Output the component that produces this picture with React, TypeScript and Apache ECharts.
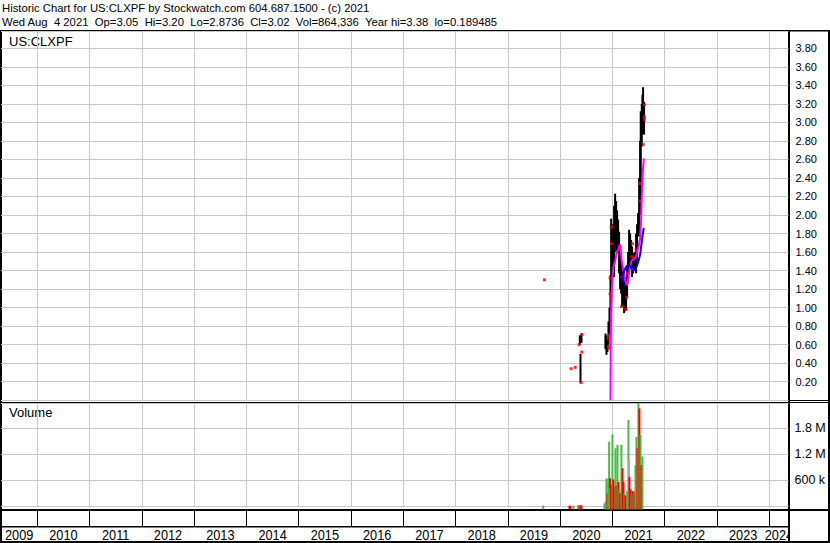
import React, { useEffect, useRef } from "react";
import * as echarts from "echarts";

const HEADER_LINE_1 = "Historic Chart for US:CLXPF by Stockwatch.com 604.687.1500 - (c) 2021";
const HEADER_LINE_2 =
  "Wed Aug  4 2021  Op=3.05  Hi=3.20  Lo=2.8736  Cl=3.02  Vol=864,336  Year hi=3.38  lo=0.189485";
const SYMBOL_LABEL = "US:CLXPF";
const VOLUME_LABEL = "Volume";

const YEAR_LABELS = [2009, 2010, 2011, 2012, 2013, 2014, 2015, 2016, 2017, 2018, 2019, 2020, 2021, 2022, 2023, 2024];
const YEAR_BOUNDARIES = [2010, 2011, 2012, 2013, 2014, 2015, 2016, 2017, 2018, 2019, 2020, 2021, 2022, 2023, 2024];
const X_MIN = 2009.3057;
const X_MAX = 2024.3671;

const PRICE_MIN = 0;
const PRICE_MAX = 3.987;
const PRICE_STEP = 0.2;
const VOL_MIN = 0;
const VOL_MAX = 2383800;
const VOL_STEP = 600000;

// price range bars: time (fractional year), low, high
const BAR_T = [
  2020.376, 2020.389, 2020.408,
  2020.866, 2020.885, 2020.904, 2020.924, 2020.943, 2020.962, 2020.975, 2020.994,
  2021.013, 2021.032, 2021.051, 2021.070, 2021.089, 2021.108, 2021.127, 2021.146,
  2021.166, 2021.185, 2021.204, 2021.223, 2021.242, 2021.261, 2021.280, 2021.299,
  2021.318, 2021.338, 2021.357, 2021.376, 2021.395, 2021.414, 2021.433, 2021.452,
  2021.471, 2021.490, 2021.510, 2021.529, 2021.541, 2021.561, 2021.573, 2021.586, 2021.605,
];
const BAR_LOW = [
  0.60, 0.19, 0.62,
  0.55, 0.49, 0.52, 0.60, 0.72, 0.80, 1.25, 1.33,
  1.40, 1.33, 1.66, 1.60, 1.59, 1.59, 1.37, 1.20,
  1.15, 1.01, 1.05, 0.94, 0.96, 0.97, 1.12, 1.30,
  1.44, 1.51, 1.44, 1.33, 1.37, 1.40, 1.41, 1.37,
  1.50, 1.77, 1.77, 2.00, 2.20, 2.74, 2.90, 2.87, 2.87,
];
const BAR_HIGH = [
  0.70, 0.50, 0.72,
  0.72, 0.70, 0.66, 0.85, 1.00, 1.35, 1.96, 1.84,
  1.90, 2.10, 2.23, 2.15, 2.05, 1.95, 1.82, 1.66,
  1.50, 1.41, 1.33, 1.23, 1.30, 1.33, 1.44, 1.60,
  1.84, 1.80, 1.73, 1.66, 1.59, 1.59, 1.60, 1.80,
  1.90, 2.02, 2.40, 2.80, 3.12, 3.20, 3.30, 3.38, 3.22,
];

// red close marks
const MARK_T = [
  2019.70, 2020.210, 2020.287, 2020.363, 2020.414, 2020.414, 2020.401,
  2020.924, 2020.936, 2020.924, 2020.936, 2020.955, 2020.968, 2020.955, 2020.975, 2020.987,
  2021.172, 2021.178, 2021.255, 2021.274, 2021.287, 2021.369, 2021.382, 2021.452,
  2021.522, 2021.529, 2021.586, 2021.611, 2021.611, 2021.611,
];
const MARK_V = [
  1.30, 0.34, 0.355, 0.60, 0.71, 0.52, 0.19,
  0.66, 0.70, 0.58, 0.56, 1.15, 1.10, 1.32, 1.87, 1.69,
  1.01, 1.33, 0.98, 1.11, 1.37, 1.55, 1.69, 1.62,
  2.34, 2.15, 2.76, 3.19, 3.06, 3.03,
];

// short moving average (magenta)
const MA_FAST_T = [
  2020.962, 2020.968, 2020.975, 2020.987, 2021.000, 2021.019, 2021.051, 2021.083, 2021.115,
  2021.140, 2021.153, 2021.178, 2021.210, 2021.242, 2021.274, 2021.290, 2021.306, 2021.338,
  2021.369, 2021.401, 2021.452, 2021.497, 2021.529, 2021.548, 2021.561, 2021.580, 2021.600,
];
const MA_FAST_V = [
  0.0, 0.62, 0.94, 1.15, 1.33, 1.44, 1.50, 1.60, 1.63,
  1.68, 1.66, 1.50, 1.40, 1.30, 1.24, 1.26, 1.33, 1.44,
  1.51, 1.52, 1.55, 1.66, 1.74, 1.95, 2.20, 2.45, 2.61,
];

// long moving average (blue)
const MA_SLOW_T = [
  2021.172, 2021.191, 2021.210, 2021.242, 2021.274, 2021.306, 2021.338, 2021.369,
  2021.401, 2021.433, 2021.465, 2021.497, 2021.529, 2021.554, 2021.573, 2021.600,
];
const MA_SLOW_V = [
  1.27, 1.33, 1.37, 1.42, 1.45, 1.46, 1.45, 1.42,
  1.41, 1.41, 1.45, 1.50, 1.57, 1.68, 1.77, 1.86,
];

// volume bars
const VOL_T = [
  2019.677, 2020.178, 2020.197, 2020.254, 2020.350, 2020.369, 2020.388, 2020.407,
  2020.847, 2020.866, 2020.885, 2020.905, 2020.920, 2020.937, 2020.952, 2020.961, 2020.971,
  2021.000, 2021.019, 2021.038, 2021.058, 2021.077, 2021.096, 2021.115, 2021.134, 2021.149,
  2021.172, 2021.185, 2021.191, 2021.211, 2021.230, 2021.249, 2021.264, 2021.281, 2021.306,
  2021.317, 2021.325, 2021.344, 2021.364, 2021.383, 2021.402, 2021.421, 2021.440, 2021.459,
  2021.478, 2021.497, 2021.516, 2021.536, 2021.555, 2021.574,
];
const VOL_V = [
  20000, 15000, 12000, 15000, 20000, 25000, 20000, 15000,
  60000, 100000, 640000, 300000, 640000, 1490000, 650000, 420000, 500000,
  1660000, 620000, 450000, 1340000, 480000, 1420000, 560000, 400000, 300000,
  1420000, 880000, 880000, 560000, 300000, 250000, 200000, 350000, 1990000,
  1070000, 680000, 400000, 300000, 350000, 270000, 340000, 950000, 1600000,
  1340000, 2410000, 2260000, 1650000, 950000, 1150000,
];
const VOL_DIR = [
  "up", "down", "down", "up", "down", "up", "down", "down",
  "up", "up", "up", "down", "up", "up", "down", "flat", "down",
  "up", "down", "down", "up", "down", "up", "down", "up", "down",
  "up", "flat", "down", "down", "up", "down", "down", "up", "up",
  "flat", "down", "down", "up", "down", "up", "down", "up", "up",
  "down", "up", "down", "up", "down", "up",
];

const COLORS = {
  up: "#4cb944",
  down: "#ff0000",
  flat: "#a9a9a9",
  grid: "#c8c8c8",
  fast: "#ff00ff",
  slow: "#0000ff",
  bar: "#000000",
  mark: "#ff0000",
  text: "#000000",
};

const FONT = "'Liberation Sans', Arial, sans-serif";

function xAxisFor(gridIndex: number, color: string) {
  return {
    type: "value",
    gridIndex,
    min: X_MIN,
    max: X_MAX,
    axisLine: { show: false },
    axisLabel: { show: false },
    axisTick: { show: false, customValues: YEAR_BOUNDARIES },
    splitLine: { show: true, lineStyle: { color, width: 1 } },
  };
}

function hiddenY(gridIndex: number) {
  return {
    type: "value",
    gridIndex,
    min: 0,
    max: 1,
    show: false,
    splitLine: { show: false },
  };
}

export default function App() {
  const ref = useRef<HTMLDivElement>(null);

  useEffect(() => {
    if (!ref.current) return;
    const chart = echarts.init(ref.current, null, { renderer: "svg" });

    const barData = BAR_T.map((t, i) => [t, BAR_LOW[i], BAR_HIGH[i]]);
    const markData = MARK_T.map((t, i) => [t, MARK_V[i]]);
    const fastData = MA_FAST_T.map((t, i) => [t, MA_FAST_V[i]]);
    const slowData = MA_SLOW_T.map((t, i) => [t, MA_SLOW_V[i]]);
    const volData = VOL_T.map((t, i) => [t, VOL_V[i], i]);
    const yearData = YEAR_LABELS.map((y) => [Math.max(y, X_MIN), Math.min(y + 1, X_MAX), y]);

    const option: any = {
      animation: false,
      backgroundColor: "#ffffff",
      grid: [
        { left: 1, top: 31, width: 787.5, height: 369.2 },
        { left: 1, top: 403, width: 787.5, height: 103.3 },
        { left: 1, top: 511, width: 787.5, height: 15 },
        { left: 1, top: 527.5, width: 787.5, height: 13.5 },
      ],
      xAxis: [
        xAxisFor(0, COLORS.grid),
        xAxisFor(1, COLORS.grid),
        xAxisFor(2, "#000000"),
        { ...xAxisFor(3, "#000000"), splitLine: { show: false } },
      ],
      yAxis: [
        {
          type: "value",
          gridIndex: 0,
          position: "right",
          min: PRICE_MIN,
          max: PRICE_MAX,
          interval: PRICE_STEP,
          axisLine: { show: false },
          axisTick: { show: false },
          splitLine: { show: true, lineStyle: { color: COLORS.grid, width: 1 } },
          axisLabel: {
            margin: 7,
            color: COLORS.text,
            fontFamily: FONT,
            fontSize: 11,
            showMaxLabel: false,
            showMinLabel: false,
            formatter: (v: number) => (v <= 0 ? "" : v.toFixed(2)),
          },
        },
        {
          type: "value",
          gridIndex: 1,
          position: "right",
          min: VOL_MIN,
          max: VOL_MAX,
          interval: VOL_STEP,
          axisLine: { show: false },
          axisTick: { show: false },
          splitLine: { show: true, lineStyle: { color: COLORS.grid, width: 1 } },
          axisLabel: {
            margin: 6,
            color: COLORS.text,
            fontFamily: FONT,
            fontSize: 12.5,
            showMaxLabel: false,
            showMinLabel: false,
            formatter: (v: number) =>
              v <= 0 ? "" : v >= 1000000 ? (v / 1000000).toFixed(1) + " M" : Math.round(v / 1000) + " k",
          },
        },
        hiddenY(2),
        hiddenY(3),
      ],
      series: [
        {
          type: "custom",
          name: "range",
          xAxisIndex: 0,
          yAxisIndex: 0,
          data: barData,
          encode: { x: 0, y: [1, 2] },
          renderItem: (params: any, api: any) => {
            const t = api.value(0);
            const top = api.coord([t, api.value(2)]);
            const bottom = api.coord([t, api.value(1)]);
            return {
              type: "rect",
              shape: { x: top[0] - 1, y: top[1], width: 2, height: Math.max(1, bottom[1] - top[1]) },
              style: { fill: COLORS.bar },
            };
          },
        },
        {
          type: "line",
          name: "fast",
          xAxisIndex: 0,
          yAxisIndex: 0,
          data: fastData,
          showSymbol: false,
          symbol: "none",
          lineStyle: { color: COLORS.fast, width: 2 },
          itemStyle: { color: COLORS.fast },
        },
        {
          type: "line",
          name: "slow",
          xAxisIndex: 0,
          yAxisIndex: 0,
          data: slowData,
          showSymbol: false,
          symbol: "none",
          lineStyle: { color: COLORS.slow, width: 2 },
          itemStyle: { color: COLORS.slow },
        },
        {
          type: "scatter",
          name: "close",
          xAxisIndex: 0,
          yAxisIndex: 0,
          data: markData,
          symbol: "rect",
          symbolSize: 3,
          itemStyle: { color: COLORS.mark },
        },
        {
          type: "custom",
          name: "volume",
          xAxisIndex: 1,
          yAxisIndex: 1,
          data: volData,
          encode: { x: 0, y: 1 },
          renderItem: (params: any, api: any) => {
            const t = api.value(0);
            const idx = api.value(2);
            const top = api.coord([t, api.value(1)]);
            const cs = params.coordSys;
            const y0 = Math.max(top[1], cs.y);
            const yb = cs.y + cs.height + 3;
            const dir = VOL_DIR[idx] as "up" | "down" | "flat";
            return {
              type: "rect",
              shape: { x: top[0] - 1, y: y0, width: 2, height: yb - y0 },
              style: { fill: COLORS[dir] },
            };
          },
        },
        {
          type: "custom",
          name: "years",
          xAxisIndex: 3,
          yAxisIndex: 3,
          data: yearData,
          clip: true,
          encode: { x: [0, 1] },
          renderItem: (params: any, api: any) => {
            const a = api.coord([api.value(0), 0.5]);
            const b = api.coord([api.value(1), 0.5]);
            return {
              type: "text",
              x: (a[0] + b[0]) / 2,
              y: a[1],
              scaleX: 0.85,
              style: {
                text: String(api.value(2)),
                fill: COLORS.text,
                font: "15px " + FONT,
                align: "center",
                verticalAlign: "middle",
              },
            };
          },
        },
      ],
      graphic: [
        { type: "text", left: 2, top: 2, style: { text: HEADER_LINE_1, fill: COLORS.text, font: "11.3px " + FONT } },
        { type: "text", left: 2, top: 16, style: { text: HEADER_LINE_2, fill: COLORS.text, font: "11.3px " + FONT } },
        { type: "text", left: 9, top: 35, style: { text: SYMBOL_LABEL, fill: COLORS.text, font: "13px " + FONT } },
        { type: "text", left: 9, top: 406, style: { text: VOLUME_LABEL, fill: COLORS.text, font: "13px " + FONT } },
        // frame
        { type: "rect", shape: { x: 0, y: 30, width: 830, height: 1.5 }, style: { fill: "#000" } },
        { type: "rect", shape: { x: 0, y: 30, width: 2, height: 513 }, style: { fill: "#000" } },
        { type: "rect", shape: { x: 828, y: 30, width: 2, height: 513 }, style: { fill: "#000" } },
        { type: "rect", shape: { x: 0, y: 541, width: 830, height: 2 }, style: { fill: "#000" } },
        { type: "rect", shape: { x: 788, y: 30, width: 2, height: 513 }, style: { fill: "#000" } },
        { type: "rect", shape: { x: 0, y: 400, width: 830, height: 1 }, style: { fill: "#000" } },
        { type: "rect", shape: { x: 0, y: 402, width: 830, height: 1 }, style: { fill: "#000" } },
        { type: "rect", shape: { x: 0, y: 509, width: 830, height: 2 }, style: { fill: "#000" } },
        { type: "rect", shape: { x: 0, y: 526, width: 790, height: 1.5 }, style: { fill: "#000" } },
      ],
    };

    chart.setOption(option);
    return () => chart.dispose();
  }, []);

  return (
    <div
      ref={ref}
      style={{ position: "absolute", left: 0, top: 0, width: 830, height: 543, background: "#fff" }}
    />
  );
}
